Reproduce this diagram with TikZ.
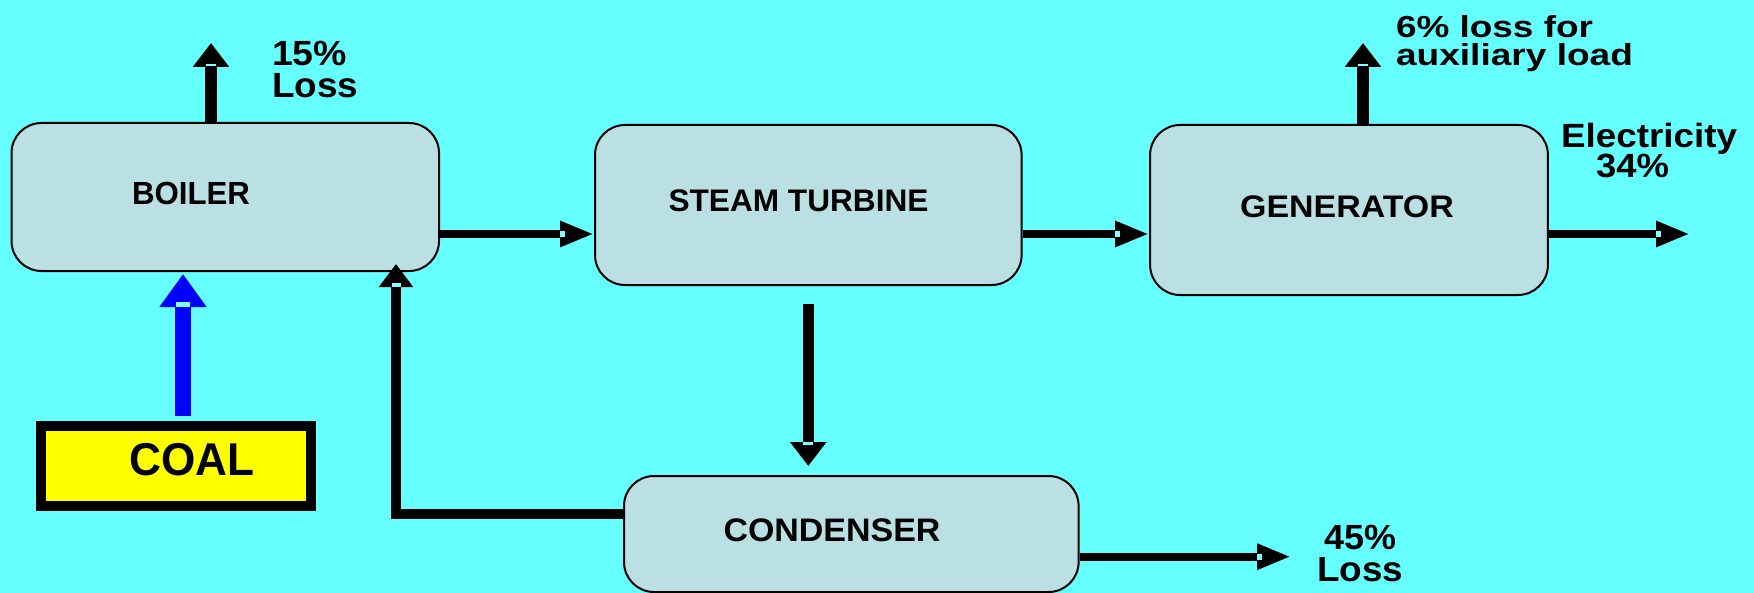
\documentclass[tikz,border=0pt]{standalone}
\usepackage{fontspec}
\setmainfont{Liberation Sans}
\usepackage{graphicx}
\usetikzlibrary{arrows.meta,calc}
\definecolor{bgc}{HTML}{66FFFF}
\definecolor{boxc}{HTML}{BBE0E3}
\definecolor{coalc}{HTML}{FFFF00}
\definecolor{fuelc}{HTML}{0000FF}
\definecolor{notchc}{HTML}{7FFFFF}
\begin{document}
\begin{tikzpicture}[x=0.5pt,y=-0.5pt,
  blk/.style={draw=black,line width=1pt,fill=boxc,rounded corners=15pt,inner sep=0pt},
  coalbox/.style={draw=black,line width=5.25pt,fill=coalc,inner sep=0pt,minimum width=135pt,minimum height=40pt},
  harrow/.style={line width=4.2pt,-{Triangle[length=17pt,width=12pt]}},
  varrow/.style={line width=5.8pt,-{Triangle[length=12pt,width=17.5pt]}},
  retarrow/.style={line width=5pt,-{Triangle[length=11.5pt,width=16.5pt]}},
  fuelarrow/.style={color=fuelc,line width=8pt,-{Triangle[length=16.5pt,width=22.5pt]}},
  notch/.style={fill=notchc},
  lbl/.style={inner sep=0pt,outer sep=0pt}]
\useasboundingbox (0,0) rectangle (1754,593);
\fill[bgc] (0,0) rectangle (1754,593);

% boxes
\node[blk,minimum width=213.75pt,minimum height=74pt] (boiler) at (225.25,197) {};
\node[blk,minimum width=213.3pt,minimum height=80pt] (turbine) at (808.3,205) {};
\node[blk,minimum width=198.9pt,minimum height=85pt] (generator) at (1349,210) {};
\node[blk,minimum width=227.3pt,minimum height=58pt] (condenser) at (851.3,534) {};
\node[coalbox] (coal) at (176,466) {};

% box texts
\node[lbl,font=\fontsize{16}{19}\selectfont\bfseries] (tboiler) at (191,193.5) {\resizebox{59pt}{\height}{BOILER}};
\node[lbl,font=\fontsize{15.6}{19}\selectfont\bfseries] (tturbine) at (798.5,200.5) {\resizebox{130pt}{\height}{STEAM TURBINE}};
\node[lbl,font=\fontsize{15.6}{19}\selectfont\bfseries] (tgen) at (1347,207) {\resizebox{106.8pt}{\height}{GENERATOR}};
\node[lbl,font=\fontsize{16.3}{19}\selectfont\bfseries] (tcond) at (832,530) {\resizebox{108.5pt}{\height}{CONDENSER}};
\node[lbl,font=\fontsize{23}{27}\selectfont\bfseries] (tcoal) at (192,459.5) {\resizebox{62.5pt}{\height}{COAL}};

% free ends and tips
\coordinate (lossB) at (211,43);
\coordinate (aux) at (1363,43);
\coordinate (elec) at (1690,234);
\coordinate (lossC) at (1291,556.7);
\coordinate (t1) at (turbine.west |- 0,234);
\coordinate (t2) at (generator.west |- 0,234);
\coordinate (t3) at ($(boiler.south -| 396,0)+(0,-8)$);
\coordinate (t4) at ($(condenser.north -| turbine.south)+(0,-9)$);
\coordinate (t5) at ($(boiler.south -| 183,0)+(0,2)$);

% connectors
\draw[harrow] (boiler.east |- t1) -- (t1);
\draw[harrow] (turbine.east |- t2) -- (t2);
\draw[harrow] (generator.east |- elec) -- (elec);
\draw[harrow] (condenser.east |- lossC) -- (lossC);
\draw[varrow] (boiler.north -| lossB) -- (lossB);
\draw[varrow] (generator.north -| aux) -- (aux);
\draw[varrow,shorten <=9pt] (turbine.south) -- (t4);
\draw[fuelarrow,shorten <=2.4pt] (coal.north -| t5) -- (t5);
\draw[retarrow] (condenser.west |- 0,514) -| (t3);

% small light marks at the arrowhead bases
\foreach \t in {t1,t2,elec,lossC}
  \fill[notch] ($(\t)+(-34,-3)$) rectangle ($(\t)+(-29,3)$);
\foreach \t in {lossB,aux}
  \fill[notch] ($(\t)+(-5,21)$) rectangle ($(\t)+(5,23.5)$);
\fill[notch] ($(t4)+(-5,-24)$) rectangle ($(t4)+(5,-21)$);
\fill[notch] ($(t5)+(-7,28)$) rectangle ($(t5)+(7,33)$);
\fill[notch] ($(t3)+(-4.5,19)$) rectangle ($(t3)+(4.5,22.5)$);

% labels
\node[lbl,anchor=north west,align=left,font=\fontsize{17.5}{16.3}\selectfont\bfseries] (l15) at (272,41)
  {\resizebox{37.5pt}{\height}{15\%}\\\resizebox{43pt}{\height}{Loss}};
\node[lbl,anchor=north west,align=left,font=\fontsize{15.2}{14.2}\selectfont\bfseries] (l6) at (1396,15)
  {\resizebox{98.5pt}{\height}{6\% loss for}\\\resizebox{118.5pt}{\height}{auxiliary load}};
\node[lbl,anchor=north west,align=left,font=\fontsize{16.8}{15.3}\selectfont\bfseries] (lel) at (1561,122.7)
  {\resizebox{88pt}{\height}{Electricity}\\\hspace*{17.5pt}\resizebox{36.5pt}{\height}{34\%}};
\node[lbl,anchor=north,align=center,font=\fontsize{17.5}{16.2}\selectfont\bfseries] (l45) at (1360,525)
  {\resizebox{36pt}{\height}{45\%}\\\resizebox{43pt}{\height}{Loss}};
\end{tikzpicture}
\end{document}
